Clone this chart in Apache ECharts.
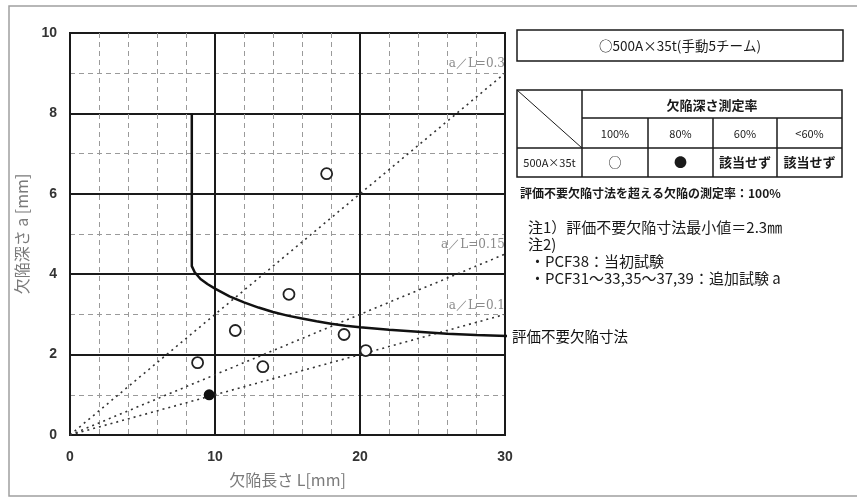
<!DOCTYPE html>
<html>
<head>
<meta charset="utf-8">
<script src="https://cdn.jsdelivr.net/npm/echarts@6/dist/echarts.min.js"></script>
<style>
  html, body { margin: 0; padding: 0; background: #fff; }
  #chart { width: 857px; height: 497px; }
</style>
</head>
<body>
<div id="chart"></div>
<script>
// Defect length L [mm] / depth a [mm] measurements
const openPoints = [[8.8, 1.8], [11.4, 2.6], [13.3, 1.7], [15.1, 3.5], [17.7, 6.5], [18.9, 2.5], [20.4, 2.1]];
const filledPoints = [[9.6, 1.0]];

// Acceptance curve (評価不要欠陥寸法)
const curveL = [8.4, 8.4, 8.6, 9.0, 9.5, 10, 11, 12, 13, 14, 15, 16, 17, 18, 19, 20, 22, 24, 26, 28, 30.3];
const curveA = [8.0, 4.2, 4.05, 3.88, 3.75, 3.64, 3.45, 3.3, 3.17, 3.06, 2.97, 2.9, 2.83, 2.77, 2.72, 2.68, 2.62, 2.57, 2.52, 2.49, 2.46];
const curveName = '評価不要欠陥寸法';

// Aspect-ratio guide lines a/L
const ratios = [0.3, 0.15, 0.1];
const ratioLabels = ['a／L=0.3', 'a／L=0.15', 'a／L=0.1'];

// Axes
const lengthMax = 30;
const depthMax = 10;
const lengthName = '欠陥長さ L[mm]';
const depthName = '欠陥深さ a [mm]';

// Side panel texts
const panelTitle = '○500A×35t(手動5チーム)';
const tableHeader = '欠陥深さ測定率';
const rateCols = ['100%', '80%', '60%', '<60%'];
const rowLabel = '500A×35t';
const rowCells = ['○', '●', '該当せず', '該当せず'];
const rateNote = '評価不要欠陥寸法を超える欠陥の測定率：100%';
const notes = ['注1）評価不要欠陥寸法最小値＝2.3㎜', '注2)'];
const bullets = ['・PCF38：当初試験', '・PCF31～33,35～37,39：追加試験 a'];

const chart = echarts.init(document.getElementById('chart'));

const ink = '#1a1a1a';
const sans = '"Noto Sans CJK JP", "Noto Sans", sans-serif';

const ratioSeries = ratios.map((r, i) => ({
  type: 'line',
  data: [
    { value: [0, 0], label: { show: false } },
    { value: [lengthMax, lengthMax * r], label: {
      show: true, formatter: ratioLabels[i], position: 'top', align: 'right',
      distance: 3, color: '#8a8a8a', fontSize: 12, fontFamily: '"DejaVu Serif", serif'
    } }
  ],
  showSymbol: true,
  symbol: 'circle',
  symbolSize: 0,
  lineStyle: { color: '#333', width: 1.6, type: [2, 4] },
  silent: true,
  z: 3
}));

// Table geometry
const tx = [517, 582, 648, 713, 777, 842];
const ty = [90, 118, 148, 177];
const lineStyle = { stroke: ink, lineWidth: 1.5 };
const g = [];
g.push({ type: 'rect', shape: { x: 9, y: 6, width: 880, height: 490 }, style: { fill: 'none', stroke: '#a0a0a0', lineWidth: 1.5 }, z: -10 });
g.push({ type: 'rect', shape: { x: 517, y: 30, width: 326, height: 31 }, style: { fill: 'none', stroke: ink, lineWidth: 1.5 } });
g.push({ type: 'text', x: 680, y: 45.5, style: { text: panelTitle, fontSize: 13.5, fontFamily: sans, fill: ink, textAlign: 'center', textVerticalAlign: 'middle' } });
g.push({ type: 'rect', shape: { x: tx[0], y: ty[0], width: tx[5] - tx[0], height: ty[3] - ty[0] }, style: { fill: 'none', stroke: ink, lineWidth: 1.5 } });
g.push({ type: 'line', shape: { x1: tx[1], y1: ty[1], x2: tx[5], y2: ty[1] }, style: lineStyle });
g.push({ type: 'line', shape: { x1: tx[0], y1: ty[2], x2: tx[5], y2: ty[2] }, style: lineStyle });
g.push({ type: 'line', shape: { x1: tx[1], y1: ty[0], x2: tx[1], y2: ty[3] }, style: lineStyle });
for (let i = 2; i <= 4; i++) {
  g.push({ type: 'line', shape: { x1: tx[i], y1: ty[1], x2: tx[i], y2: ty[3] }, style: lineStyle });
}
g.push({ type: 'line', shape: { x1: tx[0], y1: ty[0], x2: tx[1], y2: ty[2] }, style: { stroke: ink, lineWidth: 1 } });
g.push({ type: 'text', x: (tx[1] + tx[5]) / 2, y: (ty[0] + ty[1]) / 2 + 1, style: { text: tableHeader, fontSize: 13, fontWeight: 'bold', fontFamily: sans, fill: ink, textAlign: 'center', textVerticalAlign: 'middle' } });
rateCols.forEach((t, i) => {
  g.push({ type: 'text', x: (tx[i + 1] + tx[i + 2]) / 2, y: (ty[1] + ty[2]) / 2 + 1, style: { text: t, fontSize: 11, fontFamily: sans, fill: ink, textAlign: 'center', textVerticalAlign: 'middle' } });
});
g.push({ type: 'text', x: (tx[0] + tx[1]) / 2, y: (ty[2] + ty[3]) / 2, style: { text: rowLabel, fontSize: 11, fontFamily: sans, fill: ink, textAlign: 'center', textVerticalAlign: 'middle' } });
rowCells.forEach((t, i) => {
  g.push({ type: 'text', x: (tx[i + 1] + tx[i + 2]) / 2, y: (ty[2] + ty[3]) / 2, style: { text: t, fontSize: 13, fontWeight: i < 2 ? 'normal' : 'bold', fontFamily: sans, fill: ink, textAlign: 'center', textVerticalAlign: 'middle' } });
});
g.push({ type: 'text', x: 520, y: 193, style: { text: rateNote, fontSize: 12, fontWeight: 'bold', fontFamily: sans, fill: ink, textVerticalAlign: 'middle' } });
notes.forEach((t, i) => {
  g.push({ type: 'text', x: 528, y: 227 + i * 17, style: { text: t, fontSize: 15, fontFamily: sans, fill: ink, textVerticalAlign: 'middle' } });
});
bullets.forEach((t, i) => {
  g.push({ type: 'text', x: 530, y: 261 + i * 17, style: { text: t, fontSize: 15, fontFamily: sans, fill: ink, textVerticalAlign: 'middle' } });
});

chart.setOption({
  animation: false,
  backgroundColor: '#fff',
  grid: { left: 70, right: 352, top: 33, bottom: 62, show: true, borderColor: ink, borderWidth: 2, backgroundColor: 'transparent' },
  xAxis: {
    type: 'value', min: 0, max: lengthMax, interval: 10,
    name: lengthName, nameLocation: 'middle', nameGap: 37,
    nameTextStyle: { color: '#7a7a7a', fontSize: 16, fontFamily: sans },
    axisLine: { show: true, lineStyle: { color: ink, width: 2 } },
    axisTick: { show: false },
    axisLabel: { color: '#333', fontSize: 14, fontWeight: 'bold', fontFamily: '"Liberation Sans", Arial, sans-serif', margin: 15 },
    splitLine: { show: true, lineStyle: { color: ink, width: 2 } },
    minorTick: { show: false, splitNumber: 5 },
    minorSplitLine: { show: true, lineStyle: { color: '#9a9a9a', width: 1, type: [5, 4] } }
  },
  yAxis: {
    type: 'value', min: 0, max: depthMax, interval: 2,
    name: depthName, nameLocation: 'middle', nameGap: 40,
    nameTextStyle: { color: '#7a7a7a', fontSize: 16, fontFamily: sans },
    axisLine: { show: true, lineStyle: { color: ink, width: 2 } },
    axisTick: { show: false },
    axisLabel: { color: '#333', fontSize: 14, fontWeight: 'bold', fontFamily: '"Liberation Sans", Arial, sans-serif', margin: 13 },
    splitLine: { show: true, lineStyle: { color: ink, width: 2 } },
    minorTick: { show: false, splitNumber: 2 },
    minorSplitLine: { show: true, lineStyle: { color: '#9a9a9a', width: 1, type: [5, 4] } }
  },
  series: [
    ...ratioSeries,
    {
      type: 'line',
      name: curveName,
      data: curveL.map((l, i) => [l, curveA[i]]),
      showSymbol: false,
      symbol: 'none',
      clip: false,
      lineStyle: { color: '#111', width: 2.5 },
      endLabel: { show: true, formatter: curveName, distance: 5, color: '#111', fontSize: 14.5, fontFamily: sans },
      z: 4
    },
    {
      type: 'scatter',
      data: openPoints,
      symbol: 'circle',
      symbolSize: 11,
      itemStyle: { color: '#fff', borderColor: '#222', borderWidth: 1.8, opacity: 1 },
      z: 5
    },
    {
      type: 'scatter',
      data: filledPoints,
      symbol: 'circle',
      symbolSize: 11,
      itemStyle: { color: '#111', opacity: 1 },
      z: 5
    }
  ],
  graphic: g
});
</script>
</body>
</html>
